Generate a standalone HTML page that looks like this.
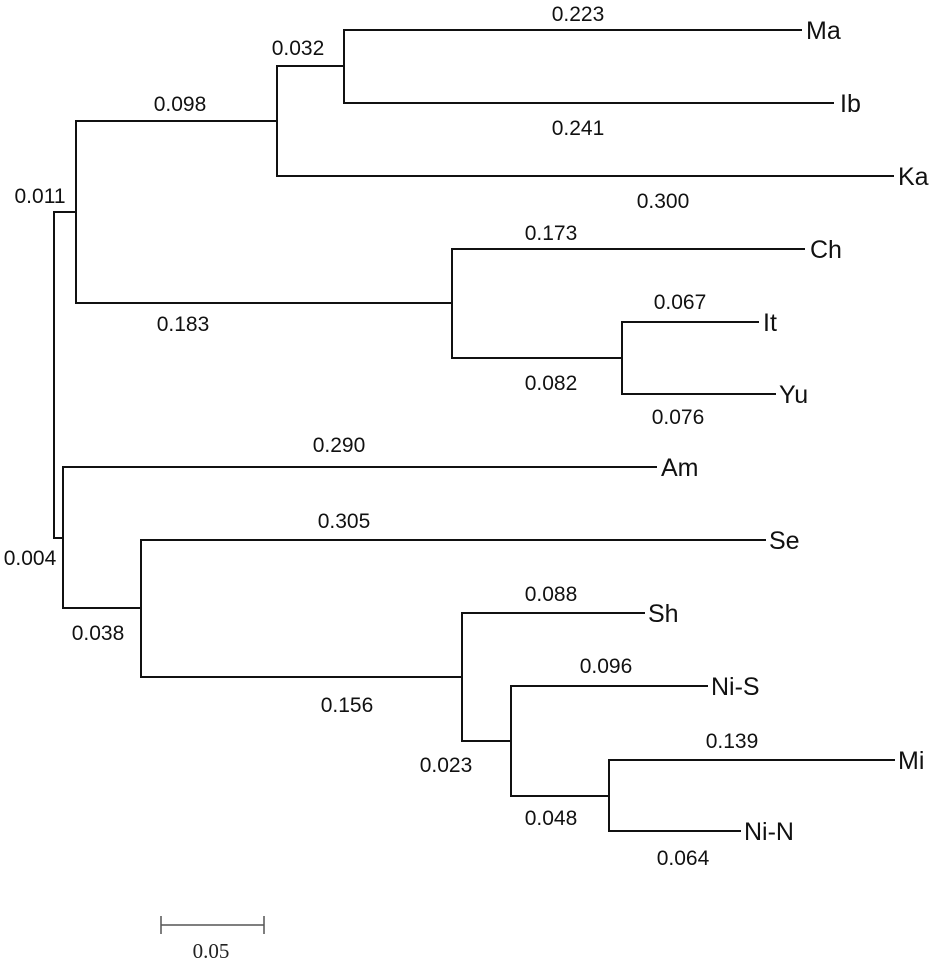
<!DOCTYPE html>
<html><head><meta charset="utf-8"><style>
html,body{margin:0;padding:0;background:#fff;width:933px;height:961px;overflow:hidden}
svg{display:block}
.b{font-family:"Liberation Sans",Arial,sans-serif;font-size:21px;fill:#111;text-anchor:middle}
.l{font-family:"Liberation Sans",Arial,sans-serif;font-size:25px;fill:#111}
</style></head><body>
<svg width="933" height="961" viewBox="0 0 933 961">
<g stroke="#111" stroke-width="2" fill="none" stroke-linecap="square">
<path d="M54 212V538M54 212H76M54 538H63"/>
<path d="M76 121V303M76 121H277M277 66V176M277 66H344M344 30V103M344 30H801M344 103H833M277 176H893"/>
<path d="M76 303H452M452 249V358M452 249H804M452 358H622M622 322V394M622 322H758M622 394H775"/>
<path d="M63 467V608M63 467H656M63 608H141M141 540V677M141 540H765M141 677H462"/>
<path d="M462 613V741M462 613H644M462 741H511M511 686V796M511 686H707M511 796H609M609 760V831M609 760H894M609 831H740"/>
</g>
<g stroke="#555" stroke-width="1.5"><path d="M161 925H264M161 916V934M264 916V934"/></g>
<g class="l">
<text x="806" y="39">Ma</text><text x="840" y="112">Ib</text><text x="898" y="185">Ka</text>
<text x="810" y="258">Ch</text><text x="763" y="331">It</text><text x="779" y="403">Yu</text>
<text x="661" y="476">Am</text><text x="769" y="549">Se</text><text x="648" y="622">Sh</text>
<text x="711" y="695">Ni-S</text><text x="898" y="769">Mi</text><text x="744" y="840">Ni-N</text>
</g>
<g class="b">
<text x="578" y="21">0.223</text><text x="298" y="55">0.032</text><text x="180" y="111">0.098</text>
<text x="578" y="135">0.241</text><text x="663" y="208">0.300</text><text x="40" y="203">0.011</text>
<text x="551" y="240">0.173</text><text x="183" y="331">0.183</text><text x="680" y="309">0.067</text>
<text x="551" y="390">0.082</text><text x="678" y="424">0.076</text><text x="339" y="452">0.290</text>
<text x="344" y="528">0.305</text><text x="30" y="565">0.004</text><text x="98" y="640">0.038</text>
<text x="347" y="712">0.156</text><text x="551" y="601">0.088</text><text x="606" y="673">0.096</text>
<text x="446" y="772">0.023</text><text x="732" y="748">0.139</text><text x="551" y="825">0.048</text>
<text x="683" y="865">0.064</text>
</g>
<text x="211" y="958" text-anchor="middle" style="font-family:'Liberation Serif',serif;font-size:21px;fill:#222">0.05</text>
</svg>
</body></html>
